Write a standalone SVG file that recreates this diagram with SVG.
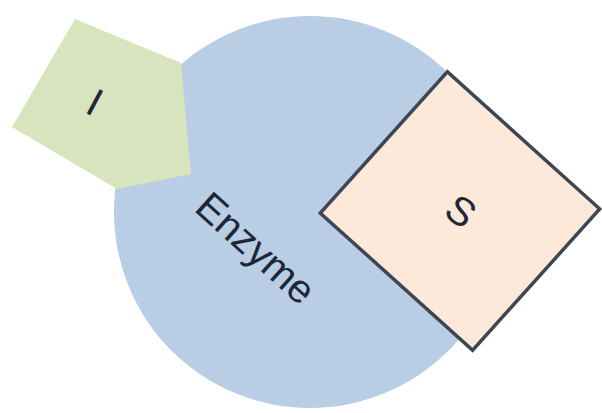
<svg xmlns="http://www.w3.org/2000/svg" width="602" height="413" viewBox="0 0 602 413">
<style>
  .lbl { font-family: "Liberation Sans", Arial, sans-serif; font-size: 40px; fill: #1f2638; text-anchor: middle; }
  .enz { fill: #b9cde5; }
  .inh { fill: #d7e4bd; }
  .sub { fill: #fde9d9; stroke: #3e4653; stroke-width: 3.5; stroke-linejoin: miter; }
</style>
<rect width="602" height="413" fill="#ffffff"/>
<g id="enzyme">
  <circle class="enz" cx="310" cy="212" r="196"/>
  <text class="lbl" transform="translate(256,248) rotate(42)" y="14">Enzyme</text>
</g>
<g id="inhibitor">
  <polygon class="inh" points="75,19 181,63 191,174 117,189 12,127"/>
  <text class="lbl" transform="translate(95,102) rotate(28)" y="14">I</text>
</g>
<g id="substrate">
  <rect class="sub" x="-102.5" y="-95" width="205" height="190" transform="translate(460,211) rotate(42)"/>
  <text class="lbl" transform="translate(461,211) rotate(36)" y="14">S</text>
</g>
</svg>
